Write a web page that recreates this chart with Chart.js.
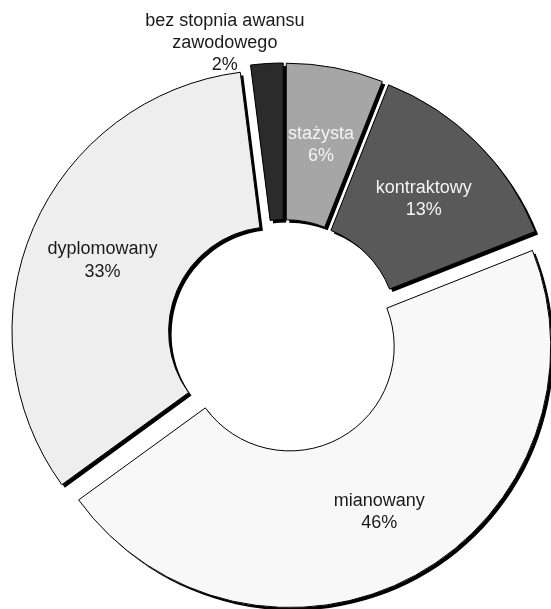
<!DOCTYPE html>
<html>
<head>
<meta charset="utf-8">
<script src="https://cdn.jsdelivr.net/npm/chart.js@4.4.0/dist/chart.umd.min.js"></script>
<style>
html,body{margin:0;padding:0;background:#ffffff;}
#wrap{width:551px;height:609px;position:relative;}
</style>
</head>
<body>
<div id="wrap"><canvas id="c" width="551" height="609"></canvas></div>
<script>
// ---- data ----
const categories = ['stażysta', 'kontraktowy', 'mianowany', 'dyplomowany', 'bez stopnia awansu zawodowego'];
const labelLines = [['stażysta'], ['kontraktowy'], ['mianowany'], ['dyplomowany'], ['bez stopnia awansu', 'zawodowego']];
const percentages = [6, 13, 46, 33, 2];
const sliceColors = ['#a6a6a6', '#595959', '#f8f8f8', '#eeeeee', '#2b2b2b'];
const labelColors = ['#f4f4f4', '#f4f4f4', '#1a1a1a', '#1a1a1a', '#1a1a1a'];
const outsideLabel = [false, false, false, false, true];

// ---- style constants ----
const EXPLODE = 12;      // px each slice is pulled out from the centre
const SHADOW = 3;        // hard drop-shadow offset
const FONT = "18px 'Liberation Sans', Arial, sans-serif";
const LINE_H = 22.5;
const LABEL_DY = 3;

function shiftOf(arc) {
  const mid = (arc.startAngle + arc.endAngle) / 2;
  return { dx: Math.cos(mid) * EXPLODE, dy: Math.sin(mid) * EXPLODE, mid };
}

const explodedShadow = {
  id: 'explodedShadow',
  beforeDatasetDraw(chart, args) {
    const ctx = chart.ctx;
    args.meta.data.forEach(arc => {
      const s = shiftOf(arc);
      // pass 1: filled silhouette casting a hard shadow (no border)
      const bw = arc.options.borderWidth;
      ctx.save();
      ctx.translate(s.dx, s.dy);
      ctx.shadowColor = '#000000';
      ctx.shadowBlur = 0;
      ctx.shadowOffsetX = SHADOW;
      ctx.shadowOffsetY = SHADOW;
      arc.options.borderWidth = 0;
      arc.draw(ctx, chart.chartArea);
      arc.options.borderWidth = bw;
      ctx.restore();
      // pass 2: normal fill + border, no shadow
      ctx.save();
      ctx.translate(s.dx, s.dy);
      arc.draw(ctx, chart.chartArea);
      ctx.restore();
    });
    return false;
  },
  afterDraw(chart) {
    const ctx = chart.ctx;
    const meta = chart.getDatasetMeta(0);
    ctx.save();
    ctx.font = FONT;
    ctx.textAlign = 'center';
    ctx.textBaseline = 'middle';
    meta.data.forEach((arc, i) => {
      const s = shiftOf(arc);
      const lines = labelLines[i].concat([percentages[i] + '%']);
      ctx.fillStyle = labelColors[i];
      if (outsideLabel[i]) {
        const ox = arc.x + s.dx + Math.cos(s.mid) * arc.outerRadius;
        const oy = arc.y + s.dy + Math.sin(s.mid) * arc.outerRadius;
        const cx = ox - 42;
        lines.forEach((t, k) => {
          ctx.fillText(t, cx, oy + 1 - (lines.length - 1 - k) * 22);
        });
        return;
      }
      const rr = (arc.innerRadius + arc.outerRadius) / 2 + 3;
      const cx = arc.x + s.dx + Math.cos(s.mid) * rr;
      const cy = arc.y + s.dy + Math.sin(s.mid) * rr + LABEL_DY;
      const top = cy - (lines.length - 1) * LINE_H / 2;
      lines.forEach((t, k) => ctx.fillText(t, cx, top + k * LINE_H));
    });
    ctx.restore();
  }
};

new Chart(document.getElementById('c'), {
  type: 'doughnut',
  data: {
    labels: categories,
    datasets: [{
      data: percentages,
      backgroundColor: sliceColors,
      borderColor: '#000000',
      borderWidth: 1,
      clip: false
    }]
  },
  options: {
    responsive: false,
    animation: false,
    radius: 261,
    cutout: '40%',
    rotation: 0,
    layout: { padding: { left: 17, right: 0, top: 63, bottom: 0 } },
    plugins: {
      legend: { display: false },
      tooltip: { enabled: false },
      title: { display: false }
    },
    events: []
  },
  plugins: [explodedShadow]
});
</script>
</body>
</html>
